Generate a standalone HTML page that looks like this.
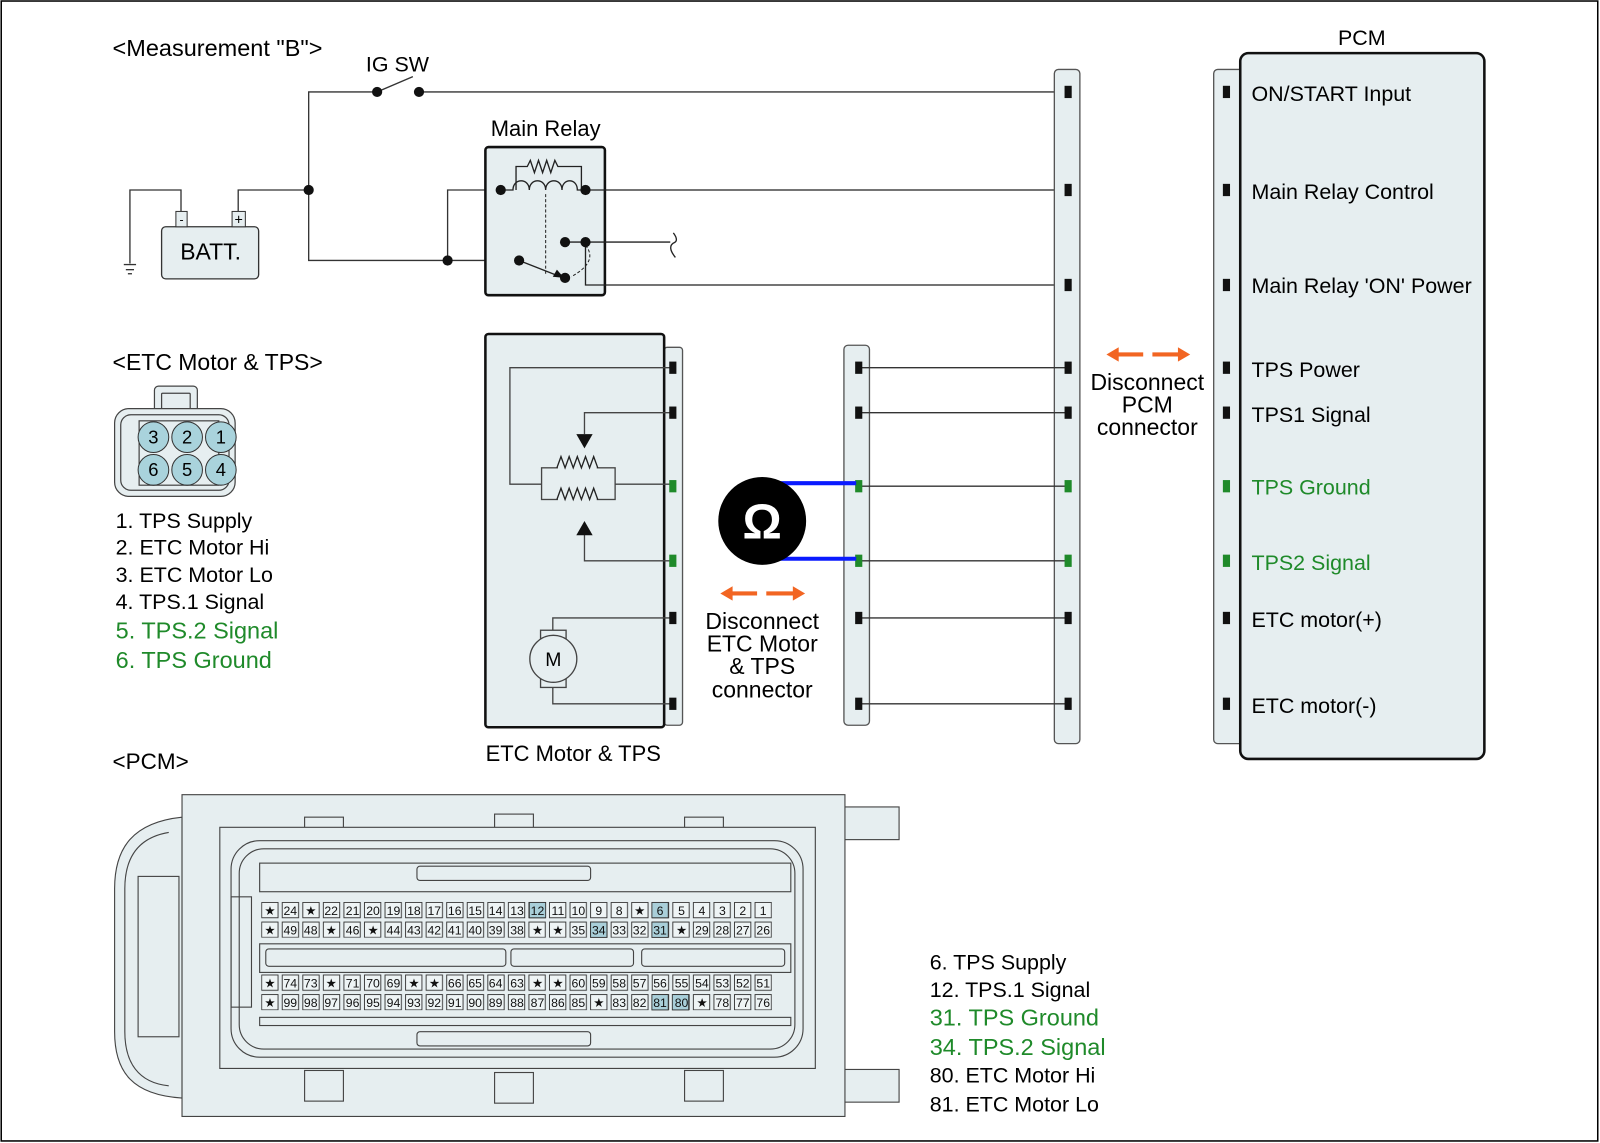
<!DOCTYPE html>
<html><head><meta charset="utf-8"><style>
html,body{margin:0;padding:0;background:#fff;}
svg{display:block;}
text{font-family:"Liberation Sans",Arial,sans-serif;}
.pn{font-size:12px;text-anchor:middle;fill:#111;}
</style></head><body>
<svg width="1600" height="1143" viewBox="0 0 1566 1119" xmlns="http://www.w3.org/2000/svg">
<defs>
<pattern id="cellp" x="255.5" y="883" width="20.125" height="19.2" patternUnits="userSpaceOnUse"><rect x="0.5" y="0.5" width="16" height="15" fill="#eef4f5" stroke="#333" stroke-width="0.9"/></pattern>
<pattern id="cellp2" x="255.5" y="954" width="20.125" height="19.2" patternUnits="userSpaceOnUse"><rect x="0.5" y="0.5" width="16" height="15" fill="#eef4f5" stroke="#333" stroke-width="0.9"/></pattern>
</defs>
<rect x="1" y="1" width="1563" height="1116" fill="#fff" stroke="#000" stroke-width="1.5"/>

<!-- top-left circuit -->
<text x="110" y="55" font-size="23">&lt;Measurement "B"&gt;</text>
<text x="358" y="70" font-size="21">IG SW</text>
<g stroke="#333" stroke-width="1.3" fill="none">
<polyline points="369,90 302,90 302,255 508,255"/>
<line x1="369" y1="90" x2="404" y2="75"/>
<line x1="410" y1="90" x2="1045" y2="90"/>
<polyline points="233,207 233,186 302,186"/>
<polyline points="177,207 177,186 127,186 127,258"/>
<line x1="121" y1="259" x2="133" y2="259"/><line x1="123" y1="264" x2="131" y2="264"/><line x1="125" y1="268" x2="129" y2="268"/>
<polyline points="438,255 438,186 490,186"/>
</g>
<rect x="158" y="222" width="95" height="51" rx="4" fill="#e6eef0" stroke="#333" stroke-width="1.3"/>
<rect x="172" y="207" width="11" height="15" fill="#e6eef0" stroke="#333"/><text x="177.5" y="219" font-size="12" text-anchor="middle">-</text>
<rect x="227" y="207" width="13" height="15" fill="#e6eef0" stroke="#333"/><text x="233.5" y="220" font-size="14" text-anchor="middle">+</text>
<text x="206" y="254" font-size="22.5" text-anchor="middle">BATT.</text>

<text x="534" y="133" font-size="21.5" text-anchor="middle">Main Relay</text>
<rect x="475" y="144" width="117" height="145" rx="3" fill="#e6eef0" stroke="#111" stroke-width="2.5"/>
<g stroke="#222" stroke-width="1.3" fill="none">
<polyline points="505,186 505,163 516,163 519,157 523,169 527,157 531,169 535,157 539,169 543,157 546,163 569,163 569,186"/>
<path d="M490,186 H502 c0,-12 16,-12 16,0 c0,-12 16,-12 16,0 c0,-12 16,-12 16,0 c0,-12 15,-12 15,0 H573"/>
<line x1="534" y1="190" x2="534" y2="270" stroke-dasharray="3,2" stroke-width="1"/>
<path d="M573,240 Q586,256 559,271" stroke-dasharray="3,2" stroke-width="1"/>
<line x1="508" y1="255" x2="546" y2="270"/>
<polyline points="553,237 656,237"/>
<path d="M659,228 q6,8 0,10 q-6,4 2,14"/>
<polyline points="573,237 573,279 1045,279"/>
<line x1="573" y1="186" x2="1045" y2="186"/>
</g>
<polygon points="552,272 541,271 545,264" fill="#111"/>
<g fill="#111">
<circle cx="369" cy="90" r="5"/><circle cx="410" cy="90" r="5"/>
<circle cx="302" cy="186" r="5"/><circle cx="438" cy="255" r="5"/>
<circle cx="490" cy="186" r="5"/><circle cx="573" cy="186" r="5"/>
<circle cx="508" cy="255" r="5"/><circle cx="553" cy="272" r="5"/>
<circle cx="553" cy="237" r="5"/><circle cx="573" cy="237" r="5"/>
</g>

<!-- big connector strip -->
<rect x="1032" y="68" width="25" height="660" rx="4" fill="#e6eef0" stroke="#555" stroke-width="1.3"/>
<!-- small connector strip -->
<rect x="826" y="338" width="25" height="372" rx="4" fill="#e6eef0" stroke="#555" stroke-width="1.3"/>
<g stroke="#333" stroke-width="1.3">
<line x1="840" y1="360" x2="1045" y2="360"/><line x1="840" y1="404" x2="1045" y2="404"/>
<line x1="840" y1="476" x2="1045" y2="476"/><line x1="840" y1="549" x2="1045" y2="549"/>
<line x1="840" y1="605" x2="1045" y2="605"/><line x1="840" y1="689" x2="1045" y2="689"/>
</g>
<g fill="#111">
<rect x="1042" y="84" width="7" height="12"/><rect x="1042" y="180" width="7" height="12"/><rect x="1042" y="273" width="7" height="12"/>
<rect x="1042" y="354" width="7" height="12"/><rect x="1042" y="398" width="7" height="12"/>
<rect x="1042" y="599" width="7" height="12"/><rect x="1042" y="683" width="7" height="12"/>
<rect x="837" y="354" width="7" height="12"/><rect x="837" y="398" width="7" height="12"/>
<rect x="837" y="599" width="7" height="12"/><rect x="837" y="683" width="7" height="12"/>
</g>
<g fill="#1f8a2a">
<rect x="1042" y="470" width="7" height="12"/><rect x="1042" y="543" width="7" height="12"/>
<rect x="837" y="470" width="7" height="12"/><rect x="837" y="543" width="7" height="12"/>
</g>

<!-- PCM -->
<text x="1333" y="44" font-size="21" text-anchor="middle">PCM</text>
<rect x="1188" y="68" width="30" height="660" rx="4" fill="#e6eef0" stroke="#555" stroke-width="1.3"/>
<rect x="1214" y="52" width="239" height="691" rx="8" fill="#e6eef0" stroke="#111" stroke-width="2.5"/>
<g fill="#111">
<rect x="1197" y="84" width="7" height="12"/><rect x="1197" y="180" width="7" height="12"/><rect x="1197" y="273" width="7" height="12"/>
<rect x="1197" y="354" width="7" height="12"/><rect x="1197" y="398" width="7" height="12"/>
<rect x="1197" y="599" width="7" height="12"/><rect x="1197" y="683" width="7" height="12"/>
</g>
<g fill="#1f8a2a"><rect x="1197" y="470" width="7" height="12"/><rect x="1197" y="543" width="7" height="12"/></g>
<g font-size="21">
<text x="1225" y="99">ON/START Input</text>
<text x="1225" y="195">Main Relay Control</text>
<text x="1225" y="287">Main Relay 'ON' Power</text>
<text x="1225" y="369">TPS Power</text>
<text x="1225" y="413">TPS1 Signal</text>
<text x="1225" y="484" fill="#1f8a2a">TPS Ground</text>
<text x="1225" y="558" fill="#1f8a2a">TPS2 Signal</text>
<text x="1225" y="614">ETC motor(+)</text>
<text x="1225" y="698">ETC motor(-)</text>
</g>
<g stroke="#f26522" stroke-width="4" fill="#f26522">
<line x1="1092" y1="347" x2="1119" y2="347"/><polygon points="1083,347 1095,340 1095,354" stroke="none"/>
<line x1="1128" y1="347" x2="1155" y2="347"/><polygon points="1165,347 1153,340 1153,354" stroke="none"/>
<line x1="714" y1="581" x2="741" y2="581"/><polygon points="705,581 717,574 717,588" stroke="none"/>
<line x1="750" y1="581" x2="778" y2="581"/><polygon points="788,581 776,574 776,588" stroke="none"/>
</g>
<g font-size="22.5" text-anchor="middle">
<text x="1123" y="382">Disconnect</text><text x="1123" y="404">PCM</text><text x="1123" y="426">connector</text>
<text x="746" y="616">Disconnect</text><text x="746" y="638">ETC Motor</text><text x="746" y="660">&amp; TPS</text><text x="746" y="683">connector</text>
</g>

<!-- ETC motor & TPS box -->
<rect x="650" y="340" width="18" height="370" rx="3" fill="#e6eef0" stroke="#555" stroke-width="1.3"/>
<rect x="475" y="327" width="175" height="385" rx="3" fill="#e6eef0" stroke="#111" stroke-width="2.5"/>
<g stroke="#444" stroke-width="1.3" fill="none">
<polyline points="656,360 499,360 499,474 530,474"/>
<rect x="530" y="458" width="72" height="31"/>
<line x1="602" y1="474" x2="656" y2="474"/>
<polyline points="656,404 572,404 572,425"/>
<polyline points="656,549 572,549 572,520"/>
</g>
<rect x="546" y="457" width="38" height="3" fill="#e6eef0"/>
<rect x="546" y="488" width="38" height="3" fill="#e6eef0"/>
<polyline points="545,458 549,447 553,458 557,447 561,458 565,447 569,458 573,447 577,458 581,447 585,458" fill="none" stroke="#222" stroke-width="1.3"/>
<polyline points="545,489 549,478 553,489 557,478 561,489 565,478 569,489 573,478 577,489 581,478 585,489" fill="none" stroke="#222" stroke-width="1.3"/>
<polygon points="564,425 580,425 572,439" fill="#111"/>
<polygon points="564,524 580,524 572,510" fill="#111"/>
<g stroke="#444" stroke-width="1.3" fill="#e6eef0">
<polyline points="541,617 541,605 656,605" fill="none"/>
<polyline points="541,673 541,689 656,689" fill="none"/>
<rect x="529" y="617" width="25" height="56"/>
<circle cx="541.5" cy="645" r="23"/>
</g>
<text x="541.5" y="652" font-size="19" text-anchor="middle">M</text>
<g fill="#111"><rect x="655" y="354" width="7" height="12"/><rect x="655" y="398" width="7" height="12"/><rect x="655" y="599" width="7" height="12"/><rect x="655" y="683" width="7" height="12"/></g>
<g fill="#1f8a2a"><rect x="655" y="470" width="7" height="12"/><rect x="655" y="543" width="7" height="12"/></g>
<text x="561" y="745" font-size="21.5" text-anchor="middle">ETC Motor &amp; TPS</text>

<!-- Ohmmeter -->
<g stroke="#0a1aff" stroke-width="4"><line x1="760" y1="473" x2="838" y2="473"/><line x1="760" y1="547" x2="838" y2="547"/></g>
<circle cx="746" cy="510" r="43" fill="#000"/>
<text x="746" y="527" font-size="48" font-weight="bold" fill="#fff" text-anchor="middle" font-family="DejaVu Sans, sans-serif">Ω</text>

<!-- ETC connector view -->
<text x="110" y="362" font-size="22.5">&lt;ETC Motor &amp; TPS&gt;</text>
<g stroke="#444" fill="#e6eef0" stroke-width="1.2">
<rect x="151" y="378" width="42" height="28" rx="4"/>
<rect x="158" y="385" width="28" height="18" rx="1"/>
<rect x="112" y="400" width="118" height="86" rx="14"/>
<rect x="118" y="406" width="106" height="74" rx="10" fill="none"/>
<rect x="136" y="412" width="78" height="63" fill="#e6eef0"/>
</g>
<g stroke="#333" stroke-width="1" fill="#a9d3dc">
<circle cx="150" cy="428" r="15"/><circle cx="183" cy="428" r="15"/><circle cx="216" cy="428" r="15"/>
<circle cx="150" cy="460" r="15"/><circle cx="183" cy="460" r="15"/><circle cx="216" cy="460" r="15"/>
</g>
<g font-size="18" text-anchor="middle">
<text x="150" y="434">3</text><text x="183" y="434">2</text><text x="216" y="434">1</text>
<text x="150" y="466">6</text><text x="183" y="466">5</text><text x="216" y="466">4</text>
</g>
<g font-size="21">
<text x="113" y="517">1. TPS Supply</text>
<text x="113" y="543">2. ETC Motor Hi</text>
<text x="113" y="570">3. ETC Motor Lo</text>
<text x="113" y="596">4. TPS.1 Signal</text>
<text x="113" y="625" font-size="23" fill="#1f8a2a">5. TPS.2 Signal</text>
<text x="113" y="654" font-size="23" fill="#1f8a2a">6. TPS Ground</text>
</g>

<!-- PCM connector -->
<text x="110" y="753" font-size="22">&lt;PCM&gt;</text>
<g stroke="#444" stroke-width="1.1" fill="#e6eef0">
<path d="M178,800 C130,805 112,830 112,870 V1010 C112,1050 130,1072 178,1075 Z"/>
<path d="M165,815 C135,820 122,840 122,870 V1010 C122,1040 135,1060 165,1063" fill="none"/>
<rect x="135" y="858" width="40" height="157" fill="none"/>
<rect x="827" y="790" width="53" height="32"/>
<rect x="827" y="1047" width="53" height="32"/>
<rect x="178" y="778" width="649" height="315"/>
<rect x="298" y="800" width="38" height="30"/><rect x="484" y="797" width="38" height="30"/><rect x="670" y="800" width="38" height="30"/>
<rect x="298" y="1048" width="38" height="30"/><rect x="484" y="1050" width="38" height="30"/><rect x="670" y="1048" width="38" height="30"/>
<path d="M215,810 H798 V1046 H215 Z" fill="#e6eef0"/>
<rect x="226" y="823" width="560" height="212" rx="28" fill="none"/>
<rect x="234" y="831" width="544" height="196" rx="24" fill="none"/>
<rect x="254" y="845" width="520" height="28" fill="none"/>
<rect x="408" y="848" width="170" height="14" rx="3" fill="none"/>
<rect x="408" y="1010" width="170" height="14" rx="3" fill="none"/>
<rect x="254" y="924" width="520" height="28"/>
<rect x="260" y="929" width="235" height="17" rx="3" fill="none"/><rect x="500" y="929" width="120" height="17" rx="3" fill="none"/><rect x="628" y="929" width="140" height="17" rx="3" fill="none"/>
<rect x="254" y="996" width="520" height="8" fill="none"/>
<rect x="226" y="878" width="20" height="108" fill="none"/>
</g>
<rect x="255.5" y="883" width="500" height="35" fill="url(#cellp)"/>
<rect x="255.5" y="954" width="500" height="35" fill="url(#cellp2)"/>
<g fill="#a9cfd9" stroke="#333" stroke-width="0.9">
<rect x="518" y="883.5" width="16" height="15"/><rect x="638" y="883.5" width="16" height="15"/>
<rect x="578" y="902.7" width="16" height="15"/><rect x="638" y="902.7" width="16" height="15"/>
<rect x="638" y="973.7" width="16" height="15"/><rect x="658" y="973.7" width="16" height="15"/>
</g>
<g class="pn">
<text x="264" y="896">★</text><text x="284" y="896">24</text><text x="304" y="896">★</text><text x="324" y="896">22</text><text x="345" y="896">21</text><text x="365" y="896">20</text><text x="385" y="896">19</text><text x="405" y="896">18</text><text x="425" y="896">17</text><text x="445" y="896">16</text><text x="465" y="896">15</text><text x="485" y="896">14</text><text x="506" y="896">13</text><text x="526" y="896">12</text><text x="546" y="896">11</text><text x="566" y="896">10</text><text x="586" y="896">9</text><text x="606" y="896">8</text><text x="626" y="896">★</text><text x="646" y="896">6</text><text x="667" y="896">5</text><text x="687" y="896">4</text><text x="707" y="896">3</text><text x="727" y="896">2</text><text x="747" y="896">1</text>
<text x="264" y="915">★</text><text x="284" y="915">49</text><text x="304" y="915">48</text><text x="324" y="915">★</text><text x="345" y="915">46</text><text x="365" y="915">★</text><text x="385" y="915">44</text><text x="405" y="915">43</text><text x="425" y="915">42</text><text x="445" y="915">41</text><text x="465" y="915">40</text><text x="485" y="915">39</text><text x="506" y="915">38</text><text x="526" y="915">★</text><text x="546" y="915">★</text><text x="566" y="915">35</text><text x="586" y="915">34</text><text x="606" y="915">33</text><text x="626" y="915">32</text><text x="646" y="915">31</text><text x="667" y="915">★</text><text x="687" y="915">29</text><text x="707" y="915">28</text><text x="727" y="915">27</text><text x="747" y="915">26</text>
<text x="264" y="967">★</text><text x="284" y="967">74</text><text x="304" y="967">73</text><text x="324" y="967">★</text><text x="345" y="967">71</text><text x="365" y="967">70</text><text x="385" y="967">69</text><text x="405" y="967">★</text><text x="425" y="967">★</text><text x="445" y="967">66</text><text x="465" y="967">65</text><text x="485" y="967">64</text><text x="506" y="967">63</text><text x="526" y="967">★</text><text x="546" y="967">★</text><text x="566" y="967">60</text><text x="586" y="967">59</text><text x="606" y="967">58</text><text x="626" y="967">57</text><text x="646" y="967">56</text><text x="667" y="967">55</text><text x="687" y="967">54</text><text x="707" y="967">53</text><text x="727" y="967">52</text><text x="747" y="967">51</text>
<text x="264" y="986">★</text><text x="284" y="986">99</text><text x="304" y="986">98</text><text x="324" y="986">97</text><text x="345" y="986">96</text><text x="365" y="986">95</text><text x="385" y="986">94</text><text x="405" y="986">93</text><text x="425" y="986">92</text><text x="445" y="986">91</text><text x="465" y="986">90</text><text x="485" y="986">89</text><text x="506" y="986">88</text><text x="526" y="986">87</text><text x="546" y="986">86</text><text x="566" y="986">85</text><text x="586" y="986">★</text><text x="606" y="986">83</text><text x="626" y="986">82</text><text x="646" y="986">81</text><text x="667" y="986">80</text><text x="687" y="986">★</text><text x="707" y="986">78</text><text x="727" y="986">77</text><text x="747" y="986">76</text>
</g>
<g font-size="21">
<text x="910" y="949">6. TPS Supply</text>
<text x="910" y="976">12. TPS.1 Signal</text>
<text x="910" y="1004" font-size="23" fill="#1f8a2a">31. TPS Ground</text>
<text x="910" y="1033" font-size="23" fill="#1f8a2a">34. TPS.2 Signal</text>
<text x="910" y="1060">80. ETC Motor Hi</text>
<text x="910" y="1088">81. ETC Motor Lo</text>
</g>
</svg>
</body></html>
